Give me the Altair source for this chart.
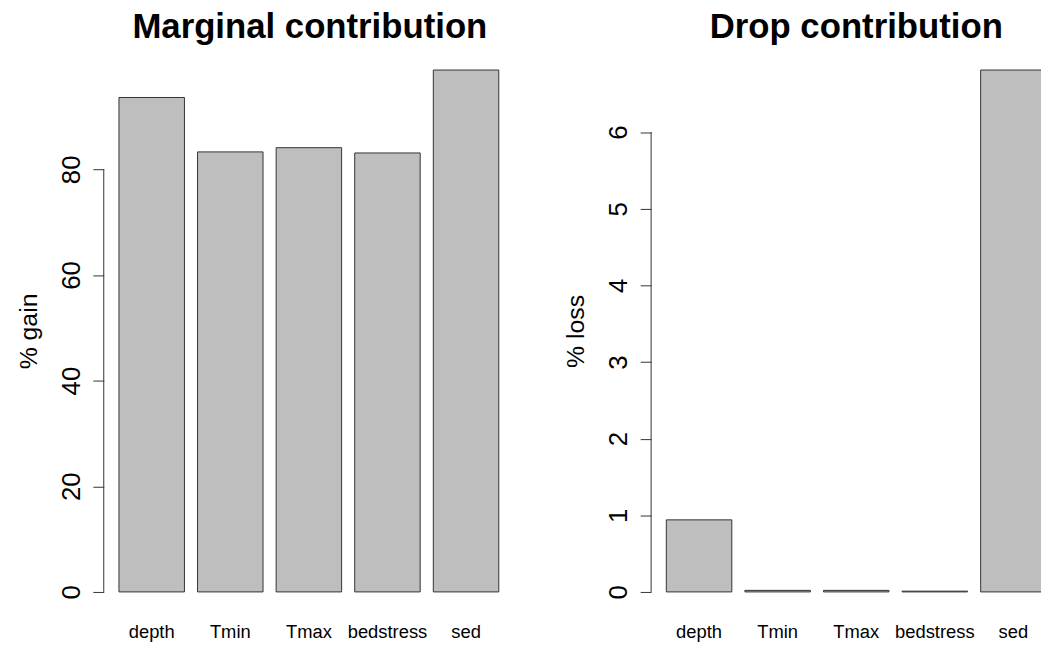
import altair as alt
import pandas as pd

variables = ["depth", "Tmin", "Tmax", "bedstress", "sed"]
gain = [93.6, 83.3, 84.1, 83.1, 98.8]
loss = [0.94, 0.02, 0.02, 0.01, 6.81]
gain_ticks = [0, 20, 40, 60, 80]
loss_ticks = [0, 1, 2, 3, 4, 5, 6]

FONT = "Liberation Sans"
PLOT_H = 568
BAND_RANGE = 413.4
RIGHT_W = 393.5
GAP = 137.6


def panel(values, ticks, title, ytitle, width, title_dx):
    df = pd.DataFrame({"var": variables, "val": values})
    vmax = max(values)
    ydom = [-0.04 * vmax, 1.04 * vmax]
    xscale = alt.Scale(domain=variables, range=[0, BAND_RANGE],
                       paddingInner=0.2 / 1.2, paddingOuter=0.232 / 1.2)
    yscale = alt.Scale(domain=ydom, nice=False, zero=False)
    bars = alt.Chart(df).mark_bar(
        fill="#BEBEBE", stroke="#333333", strokeWidth=1, clip=True
    ).encode(
        x=alt.X("var:N", sort=variables, scale=xscale,
                axis=alt.Axis(title=None, labelAngle=0, domain=False, ticks=False,
                              tickSize=0, labelPadding=25, labelBaseline="alphabetic",
                              labelFontSize=18.5, labelFont=FONT, labelColor="black")),
        y=alt.Y("val:Q", scale=yscale,
                axis=alt.Axis(values=ticks, format="d", title=ytitle, grid=False,
                              domain=False, tickSize=11, tickColor="#333333",
                              tickWidth=1, labelAngle=270, labelAlign="center",
                              labelBaseline="alphabetic", labelPadding=13.5,
                              labelFontSize=26, labelFont=FONT, labelColor="black",
                              titleFontSize=25, titleFont=FONT, titleFontWeight="normal",
                              titleColor="black", titleAngle=270, titleX=-68,
                              titleY=PLOT_H / 2, titleBaseline="alphabetic",
                              titleAlign="center")),
        y2=alt.datum(0),
    )
    axis_df = pd.DataFrame({"lo": [min(ticks)], "hi": [max(ticks)]})
    axis_line = alt.Chart(axis_df).mark_rule(color="#333333", strokeWidth=1).encode(
        x=alt.value(0),
        y=alt.Y("lo:Q", scale=yscale),
        y2="hi:Q",
    )
    return alt.layer(bars, axis_line).properties(
        width=width, height=PLOT_H,
        title=alt.TitleParams(title, fontSize=35, font=FONT, fontWeight="bold",
                              color="black", anchor="middle", offset=11,
                              baseline="alphabetic", dx=title_dx, dy=35,
                              frame="group"),
    )


left = panel(gain, gain_ticks, "Marginal contribution", "% gain", BAND_RANGE, 1)
right = panel(loss, loss_ticks, "Drop contribution", "% loss", RIGHT_W, 10)

chart = alt.hconcat(left, right, spacing=GAP, bounds="flush").properties(
    autosize=alt.AutoSizeParams(type="none"),
    padding={"left": 96.5, "top": 39, "right": BAND_RANGE + GAP + RIGHT_W, "bottom": 30},
    background="white",
).configure_view(strokeWidth=0, stroke=None)

chart.save("out.html", embed_options={"renderer": "svg", "actions": False})
